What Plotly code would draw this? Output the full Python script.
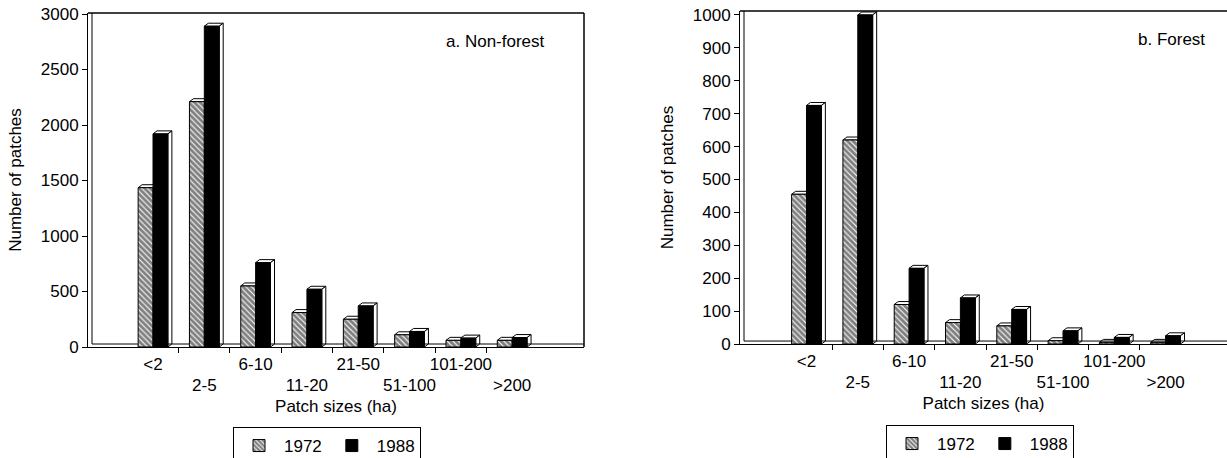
import plotly.graph_objects as go

# ---------------- data ----------------
categories = ["<2", "2-5", "6-10", "11-20", "21-50", "51-100", "101-200", ">200"]
nonforest_1972 = [1435, 2210, 550, 310, 250, 110, 60, 60]
nonforest_1988 = [1920, 2890, 760, 520, 370, 140, 80, 85]
forest_1972 = [455, 620, 120, 65, 55, 10, 5, 5]
forest_1988 = [725, 1000, 230, 140, 105, 40, 20, 25]
years = ["1972", "1988"]
panel_titles = ["a. Non-forest", "b. Forest"]
y_ticks_a = [0, 500, 1000, 1500, 2000, 2500, 3000]
y_ticks_b = [0, 100, 200, 300, 400, 500, 600, 700, 800, 900, 1000]

W, H = 1227, 458
FONT = "Liberation Sans, Arial, Helvetica, sans-serif"
FS = 17
BW = 0.29          # bar width in category units
idx = list(range(len(categories)))


def sx(px):
    return px / W


def sy(py):
    return 1 - py / H


fig = go.Figure()

hatch = dict(shape="\\", size=4, solidity=0.72, fgcolor="black", bgcolor="white")

panels = [
    dict(v72=nonforest_1972, v88=nonforest_1988, xa="x", ya="y", leg="legend",
         xr=[-1.267, 8.40], yr=[0, 3009], dom_x=[sx(88), sx(584)],
         dom_y=[sy(347), sy(13)], dy=27, yt=y_ticks_a, ov=("x3", "x5"), right=True),
    dict(v72=forest_1972, v88=forest_1988, xa="x2", ya="y2", leg="legend2",
         xr=[-1.296, 8.197], yr=[0, 1012], dom_x=[sx(740), 1.0],
         dom_y=[sy(344), sy(11)], dy=9, yt=y_ticks_b, ov=("x4", "x6"), right=False),
]

shapes = []
for p in panels:
    fig.add_trace(go.Bar(x=idx, y=p["v72"], name=years[0], width=BW, offset=-BW,
                         marker=dict(color="white", pattern=hatch,
                                     line=dict(color="black", width=1)),
                         xaxis=p["xa"], yaxis=p["ya"], legend=p["leg"]))
    fig.add_trace(go.Bar(x=idx, y=p["v88"], name=years[1], width=BW, offset=0,
                         marker=dict(color="black", line=dict(color="black", width=1)),
                         xaxis=p["xa"], yaxis=p["ya"], legend=p["leg"]))
    # empty traces so the overlay axes (boundary ticks, second label row) are drawn
    for ax in p["ov"]:
        fig.add_trace(go.Scatter(x=[None], y=[None], mode="markers", showlegend=False,
                                 hoverinfo="skip", xaxis=ax, yaxis=p["ya"]))
    dx = 4 / 51.3
    dy = p["dy"]
    # 3D faces derived from the data arrays
    for i in idx:
        for v, x0 in ((p["v72"][i], i - BW), (p["v88"][i], i)):
            x1 = x0 + BW
            shapes.append(dict(type="path", xref=p["xa"], yref=p["ya"], layer="below",
                               path=f"M{x0},{v} L{x1},{v} L{x1+dx},{v+dy} L{x0+dx},{v+dy} Z",
                               fillcolor="white", line=dict(color="black", width=1)))
        v = p["v88"][i]
        x1 = i + BW
        shapes.append(dict(type="path", xref=p["xa"], yref=p["ya"], layer="below",
                           path=f"M{x1},0 L{x1},{v} L{x1+dx},{v+dy} L{x1+dx},{dy} Z",
                           fillcolor="white", line=dict(color="black", width=1)))
    # back wall and floor lines
    xl = p["xr"][0] + dx
    shapes.append(dict(type="line", xref=p["xa"], yref=p["ya"], layer="below",
                       x0=xl, x1=xl, y0=dy, y1=p["yr"][1],
                       line=dict(color="black", width=1)))
    shapes.append(dict(type="line", xref=p["xa"], yref=p["ya"], layer="below",
                       x0=xl, x1=p["xr"][1], y0=dy, y1=dy,
                       line=dict(color="black", width=1)))
    # frame top (and right)
    shapes.append(dict(type="line", xref=p["xa"] + " domain", yref=p["ya"] + " domain",
                       x0=0, x1=1, y0=1, y1=1, line=dict(color="black", width=1.5)))
    if p["right"]:
        shapes.append(dict(type="line", xref=p["xa"] + " domain", yref=p["ya"] + " domain",
                           x0=1, x1=1, y0=0, y1=1, line=dict(color="black", width=1.5)))

axis_font = dict(family=FONT, size=FS, color="black")


def yaxis(p, anchor):
    return dict(domain=p["dom_y"], range=p["yr"], anchor=anchor, tickvals=p["yt"],
                ticks="outside", ticklen=5, tickcolor="black", showline=True,
                linecolor="black", linewidth=1, showgrid=False, zeroline=False,
                tickfont=axis_font, automargin=False, ticklabeloverflow="allow",
                title=dict(text="Number of patches", font=axis_font, standoff=14))


def xmain(p, anchor):
    return dict(domain=p["dom_x"], range=p["xr"], anchor=anchor,
                tickvals=idx[0::2], ticktext=categories[0::2], ticks="",
                ticklabelstandoff=2,
                showline=True, linecolor="black", linewidth=1, showgrid=False,
                zeroline=False, tickfont=axis_font, automargin=False)


def xticks(p, anchor, over):
    return dict(domain=p["dom_x"], range=p["xr"], anchor=anchor, overlaying=over,
                tickvals=[i + 0.5 for i in idx[:-1]], ticks="outside", ticklen=5,
                tickcolor="black", showticklabels=False, showline=False,
                showgrid=False, zeroline=False, automargin=False)


def xsecond(p, anchor, over):
    return dict(domain=p["dom_x"], range=p["xr"], anchor=anchor, overlaying=over,
                tickvals=idx[1::2], ticktext=categories[1::2], ticks="",
                ticklabelstandoff=26, showline=False, showgrid=False, zeroline=False,
                tickfont=axis_font, automargin=False,
                title=dict(text="Patch sizes (ha)", font=axis_font, standoff=6))


pa, pb = panels
legend_common = dict(orientation="h", bordercolor="black", borderwidth=1,
                     bgcolor="white", font=axis_font, yanchor="top", xanchor="left",
                     itemwidth=40, traceorder="normal")

fig.update_layout(
    width=W, height=H, margin=dict(l=0, r=0, t=0, b=0, autoexpand=False),
    paper_bgcolor="white", plot_bgcolor="white",
    font=dict(family=FONT, size=FS, color="black"),
    barmode="overlay",
    xaxis=xmain(pa, "y"), yaxis=yaxis(pa, "x"),
    xaxis2=xmain(pb, "y2"), yaxis2=yaxis(pb, "x2"),
    xaxis3=xticks(pa, "y", "x"), xaxis4=xticks(pb, "y2", "x2"),
    xaxis5=xsecond(pa, "y", "x"), xaxis6=xsecond(pb, "y2", "x2"),
    legend=dict(x=sx(233), y=sy(427), **legend_common),
    legend2=dict(x=sx(886), y=sy(425), **legend_common),
    shapes=shapes,
    annotations=[
        dict(text=panel_titles[0], xref="paper", yref="paper", x=sx(547), y=sy(42),
             xanchor="right", yanchor="middle", showarrow=False, font=axis_font),
        dict(text=panel_titles[1], xref="paper", yref="paper", x=sx(1207), y=sy(40),
             xanchor="right", yanchor="middle", showarrow=False, font=axis_font),
    ],
)

fig.write_html("out.html", config={"displayModeBar": False},
               post_script="document.body.style.margin='0px';")
